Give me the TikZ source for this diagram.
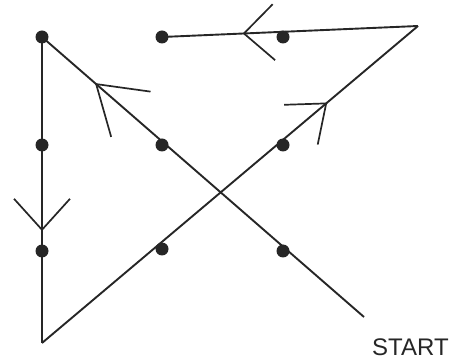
\documentclass[tikz,border=0pt]{standalone}
\usepackage{fontspec}
\setmainfont{Liberation Sans}
\usetikzlibrary{decorations.markings}
\begin{document}
\begin{tikzpicture}[x=1pt,y=-1pt,
  dot/.style={circle,fill=black!85,inner sep=0pt,minimum size=13pt},
  ln/.style={line width=1.9pt,black!85,line join=miter},
  barb/.style n args={3}{postaction={decorate,decoration={markings,
     mark=at position #1 with {\draw[line width=1.7pt,black!85] (#2,#3)--(0,0)--(#2,-#3);}}}}]
\useasboundingbox (0,0) rectangle (455,363);
% dots
\node[dot] (a1) at (42,37) {};
\node[dot] (a2) at (162,37) {};
\node[dot] (a3) at (283,37) {};
\node[dot] (b1) at (42,145) {};
\node[dot] (b2) at (162,145) {};
\node[dot] (b3) at (283,145) {};
\node[dot] (c1) at (42,251) {};
\node[dot] (c2) at (162,249) {};
\node[dot] (c3) at (283,251) {};
% corners
\coordinate (s) at (364,317);
\coordinate (bl) at (42,343);
\coordinate (tr) at (418,26);
\node[anchor=base west,inner sep=0pt,font=\fontsize{24}{26}\selectfont,black!85] (start) at (372,355) {START};
% path
\draw[ln,barb={0.832}{-46}{30}] (s) -- (a1.center);
\draw[ln,barb={0.63}{-31}{28}] (a1.center) -- (bl);
\draw[ln,barb={0.756}{-33}{26}] (bl) -- (tr);
\draw[ln,barb={0.68}{-30}{28}] (tr) -- (a2.center);
\end{tikzpicture}
\end{document}
